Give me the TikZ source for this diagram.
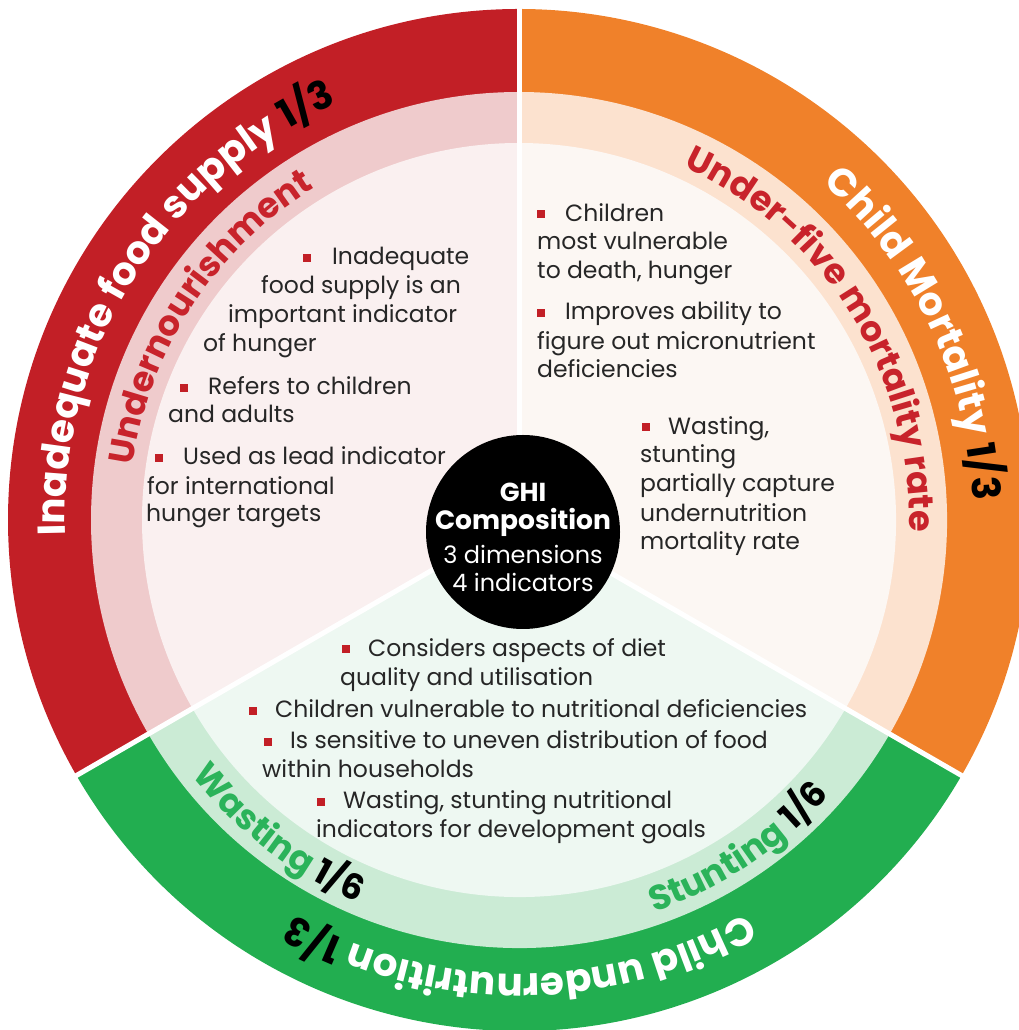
\documentclass[tikz,border=0pt]{standalone}
\usepackage{fontspec}
\setmainfont{Poppins}
\usetikzlibrary{decorations.text}
\definecolor{cred}{HTML}{C21F26}
\definecolor{corange}{HTML}{F0812A}
\definecolor{cgreen}{HTML}{22AE50}
\definecolor{lred}{HTML}{EFCBCC}
\definecolor{lorange}{HTML}{FCE2CF}
\definecolor{lgreen}{HTML}{CBEBD5}
\definecolor{pred}{HTML}{FAF0F0}
\definecolor{porange}{HTML}{FCF7F3}
\definecolor{pgreen}{HTML}{EEF8F2}
\definecolor{bodytext}{HTML}{262626}
\definecolor{labred}{HTML}{C8232B}
\definecolor{labgreen}{HTML}{2BB35A}
\newcommand\bigarc{\fontsize{39}{39}\selectfont\bfseries}
\newcommand\midarc{\fontsize{35}{35}\selectfont\bfseries}
\begin{document}
\begin{tikzpicture}[x=1pt,y=1pt,
  body/.style={anchor=base west, inner sep=0pt, font=\fontsize{23.5}{27}\selectfont, text=bodytext},
  bul/.style={fill=cred, minimum size=7.5pt, inner sep=0pt, anchor=center},
  sep/.style={white, line width=5pt},
  hubtxt/.style={anchor=base, inner sep=0pt, text=white},
  arctext/.style={decorate, decoration={text along path, text format delimiters={|}{|}, text align=left, text={#1}}}]
\useasboundingbox (0,0) rectangle (1019,1030);
\coordinate (C) at (519,510);
% sectors
\foreach \sa/\sb/\cd/\cl/\cp in {90/210/cred/lred/pred, -30/90/corange/lorange/porange, 210/330/cgreen/lgreen/pgreen}{
  \fill[\cd] (C) -- ([shift={(\sa:511)}]C) arc[start angle=\sa, end angle=\sb, radius=511] -- cycle;
  \fill[\cl] (C) -- ([shift={(\sa:428)}]C) arc[start angle=\sa, end angle=\sb, radius=428] -- cycle;
  \fill[\cp] (C) -- ([shift={(\sa:377)}]C) arc[start angle=\sa, end angle=\sb, radius=377] -- cycle;
}
\foreach \a in {90,210,330} \draw[sep] (C) -- ([shift={(\a:520)}]C);
% curved labels
\path[arctext={|\bigarc\color{white}|Inadequate food supply |\bigarc\color{black}|1/3}]
  ([shift={(182:454)}]C) arc[start angle=182, end angle=90, radius=454];
\path[arctext={|\midarc\color{labred}|Undernourishment}]
  ([shift={(172:390)}]C) arc[start angle=172, end angle=100, radius=390];
\path[arctext={|\bigarc\color{white}|Child Mortality |\bigarc\color{black}|1/3}]
  ([shift={(48:454)}]C) arc[start angle=48, end angle=-20, radius=454];
\path[arctext={|\midarc\color{labred}|Under-five mortality rate}]
  ([shift={(65:390)}]C) arc[start angle=65, end angle=-25, radius=390];
\path[arctext={|\bigarc\color{white}|Child undernutrition |\bigarc\color{black}|1/3}]
  ([shift={(300:454)}]C) arc[start angle=300, end angle=215, radius=454];
\path[arctext={|\midarc\color{labgreen}|Wasting |\midarc\color{black}|1/6}]
  ([shift={(218:415)}]C) arc[start angle=218, end angle=265, radius=415];
\path[arctext={|\midarc\color{labgreen}|Stunting |\midarc\color{black}|1/6}]
  ([shift={(289:415)}]C) arc[start angle=289, end angle=335, radius=415];
% hub
\node[circle, fill=black, minimum size=194pt, inner sep=0pt] (hub) at (523,498) {};
\node[hubtxt, font=\fontsize{26}{26}\selectfont\bfseries] (h1) at (523,528) {GHI};
\node[hubtxt, font=\fontsize{26.5}{26}\selectfont\bfseries] (h2) at (523,500) {Composition};
\node[hubtxt, font=\fontsize{24}{24}\selectfont] (h3) at (523,466) {3 dimensions};
\node[hubtxt, font=\fontsize{24}{24}\selectfont] (h4) at (523,438) {4 indicators};
% red sector text
\node[bul] (rb1) at (307,772) {};
\node[body] (r1) at (332,765) {Inadequate};
\node[body] (r2) at (261,736) {food supply is an};
\node[body] (r3) at (228,707) {important indicator};
\node[body] (r4) at (203,678) {of hunger};
\node[bul] (rb2) at (184,642) {};
\node[body] (r5) at (208,635) {Refers to children};
\node[body] (r6) at (168,607) {and adults};
\node[bul] (rb3) at (159,572) {};
\node[body] (r7) at (183,565) {Used as lead indicator};
\node[body] (r8) at (147,535) {for international};
\node[body] (r9) at (146,508) {hunger targets};
% orange sector text
\node[bul] (ob1) at (541,816) {};
\node[body] (o1) at (565,808) {Children};
\node[body] (o2) at (537,780) {most vulnerable};
\node[body] (o3) at (537,751) {to death, hunger};
\node[bul] (ob2) at (541,717) {};
\node[body] (o4) at (565,710) {Improves ability to};
\node[body] (o5) at (537,680) {figure out micronutrient};
\node[body] (o6) at (537,652) {deficiencies};
\node[bul] (ob3) at (646,603) {};
\node[body] (o7) at (668,595) {Wasting,};
\node[body] (o8) at (640,567) {stunting};
\node[body] (o9) at (640,538) {partially capture};
\node[body] (o10) at (640,508) {undernutrition};
\node[body] (o11) at (640,480) {mortality rate};
% green sector text
\node[bul] (gb1) at (346,381) {};
\node[body] (g1) at (368,373) {Considers aspects of diet};
\node[body] (g2) at (340,344) {quality and utilisation};
\node[bul] (gb2) at (253,319) {};
\node[body] (g3) at (275,312) {Children vulnerable to nutritional deficiencies};
\node[bul] (gb3) at (268,288) {};
\node[body] (g4) at (290,281) {Is sensitive to uneven distribution of food};
\node[body] (g5) at (262,252) {within households};
\node[bul] (gb4) at (321,228) {};
\node[body] (g6) at (343,221) {Wasting, stunting nutritional};
\node[body] (g7) at (316,192) {indicators for development goals};
\end{tikzpicture}
\end{document}
